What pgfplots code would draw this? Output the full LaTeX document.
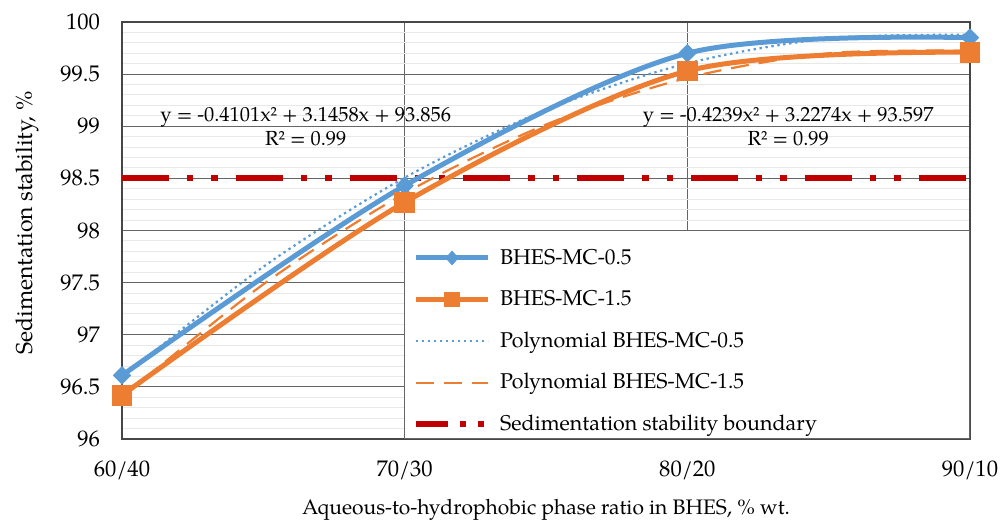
\documentclass[border=0pt]{standalone}
\usepackage{fontspec}
\setmainfont{TeX Gyre Pagella}
\usepackage{pgfplots}
\usepackage{pgfplotstable}
\pgfplotsset{compat=1.18}
\definecolor{bblue}{HTML}{5B9BD5}
\definecolor{borange}{HTML}{ED7D31}
\definecolor{bred}{HTML}{C00000}
\definecolor{gmajor}{HTML}{666666}
\definecolor{gminor}{HTML}{E8E8E8}

% measured stability, x = 0..3 for 60/40 ... 90/10
\pgfplotstableread{
x  y05    y15
0  96.61  96.42
1  98.43  98.27
2  99.70  99.53
3  99.85  99.71
}\measured

% points read along the polynomial trendlines
\pgfplotstableread{
x    p05     p15
0    96.592  96.401
0.5  97.652  97.484
1    98.507  98.356
1.5  99.157  99.016
2    99.603  99.464
2.5  99.843  99.700
3    99.878  99.724
}\trend

\begin{document}
\begin{tikzpicture}
\begin{axis}[
  scale only axis, width=424pt, height=208.5pt,
  xmin=0, xmax=3, ymin=96, ymax=100,
  xtick={0,1,2,3}, xticklabels={60/40,70/30,80/20,90/10},
  ytick={96,96.5,97,97.5,98,98.5,99,99.5,100},
  minor y tick num=4,
  xmajorgrids, ymajorgrids, yminorgrids,
  major grid style={gmajor, line width=0.6pt},
  minor grid style={gminor, line width=0.5pt},
  axis line style={gmajor!70!black, line width=0.8pt},
  major tick length=0pt, minor tick length=0pt,
  tick label style={font=\fontsize{11.3}{13}\selectfont},
  /pgf/number format/assume math mode=true,
  xticklabel style={anchor=base, yshift=-19pt},
  yticklabel style={anchor=east, xshift=-7.5pt},
  ylabel={Sedimentation stability, \%},
  ylabel style={at={(axis description cs:-0.111,0.518)}, anchor=center, rotate=0, font=\fontsize{11.5}{13}\selectfont},
  xlabel={Aqueous-to-hydrophobic phase ratio in BHES, \% wt.},
  xlabel style={at={(axis description cs:0.5,0)}, anchor=center, yshift=-35.5pt, font=\fontsize{10.5}{12}\selectfont},
  legend image code/.code={\draw[mark repeat=2,mark phase=2,#1] plot coordinates {(0pt,0pt)(18pt,0pt)(36pt,0pt)};},
  legend style={at={(axis cs:1,98)}, anchor=north west, draw=none, fill=none,
    font=\fontsize{10.7}{12}\selectfont, row sep=7.6pt, inner xsep=4pt, inner ysep=7pt,
    nodes={inner xsep=4.5pt}},
  legend cell align=left,
]
\addplot[bred, line width=3pt, line cap=butt,
  dash pattern=on 23.5pt off 9pt on 3.2pt off 9pt on 3.2pt off 9pt, forget plot]
  coordinates {(0,98.5) (3,98.5)};

\addplot[bblue, line width=2.5pt, smooth, tension=0.5,
  mark=diamond*, mark size=4.4pt, mark options={xscale=1.3, line width=0.4pt, solid}, forget plot]
  table[x=x, y=y05] {\measured};
\addplot[borange, line width=2.5pt, smooth, tension=0.5,
  mark=square*, mark size=4.9pt, mark options={line width=0.4pt, solid}, forget plot]
  table[x=x, y=y15] {\measured};
\addplot[bblue, line width=1.1pt, smooth, dash pattern=on 1.2pt off 1.8pt, forget plot]
  table[x=x, y=p05] {\trend};
\addplot[borange, line width=1.1pt, smooth, dash pattern=on 9pt off 5pt, forget plot]
  table[x=x, y=p15] {\trend};

\addlegendimage{bblue, line width=2.5pt, mark=diamond*, mark size=3.4pt, mark options={xscale=1.2, line width=0.4pt}}
\addlegendentry{BHES-MC-0.5}
\addlegendimage{borange, line width=2.5pt, mark=square*, mark size=3.7pt, mark options={line width=0.4pt}}
\addlegendentry{BHES-MC-1.5}
\addlegendimage{bblue, line width=1.1pt, dash pattern=on 1.2pt off 1.8pt}
\addlegendentry{Polynomial BHES-MC-0.5}
\addlegendimage{borange, line width=1.1pt, dash pattern=on 9pt off 5pt}
\addlegendentry{Polynomial BHES-MC-1.5}
\addlegendimage{bred, line width=3pt, line cap=butt,
  dash pattern=on 16pt off 6pt on 3pt off 6pt on 3pt off 6pt}
\addlegendentry{Sedimentation stability boundary}

\draw[gmajor, line width=0.8pt, fill=white] (axis cs:1,96) rectangle (axis cs:3,98);

\node[font=\fontsize{10.2}{12}\selectfont, align=center] at (axis cs:0.65,99.0)
  {y = -0.4101x² + 3.1458x + 93.856\\R² = 0.99};
\node[font=\fontsize{10.2}{12}\selectfont, align=center] at (axis cs:2.357,99.0)
  {y = -0.4239x² + 3.2274x + 93.597\\R² = 0.99};
\end{axis}
\pgfresetboundingbox
\path (-61pt,-42.5pt) rectangle (443pt,219.5pt);
\end{tikzpicture}
\end{document}
